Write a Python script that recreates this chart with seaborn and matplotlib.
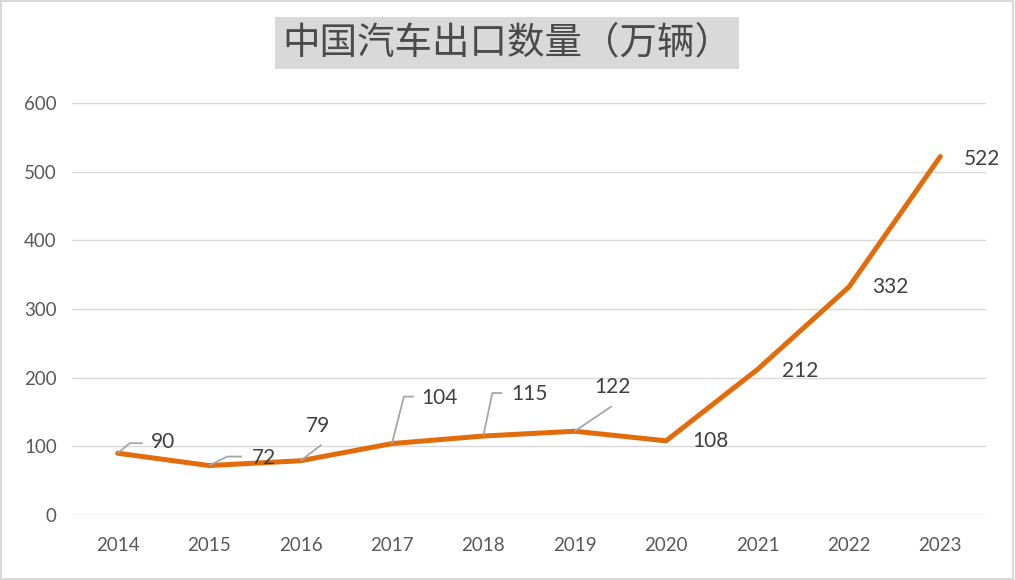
import matplotlib
matplotlib.use("Agg")
import matplotlib.pyplot as plt
import seaborn as sns
import pandas as pd
from matplotlib.patches import Rectangle

# 中国汽车出口数量（万辆）
years = ['2014', '2015', '2016', '2017', '2018', '2019', '2020', '2021', '2022', '2023']
exports = [90, 72, 79, 104, 115, 122, 108, 212, 332, 522]
y_ticks = [0, 100, 200, 300, 400, 500, 600]
title = "中国汽车出口数量（万辆）"

# label placement (offset pixels from point) and leader lines (elbow, end), None = no leader
label_offsets = [(45, 11), (55, 8), (17, 35), (48, 46), (46, 42), (38, 44), (44, 0), (43, -2), (41, 0), (42, -2)]
leaders = [((12, 10), (25, 10)), ((18, 9), (33, 9)), (None, (21, 16)), ((12, 47), (22, 47)),
           ((9, 43), (19, 43)), (None, (37, 25)), None, None, None, None]

sns.set_theme(style="white")
plt.rcParams['font.family'] = ['Lato', 'DejaVu Sans']

df = pd.DataFrame({'year': years, 'exports': exports})

fig = plt.figure(figsize=(10.15, 5.8), dpi=100)
ax = fig.add_axes([72 / 1015, 1 - 515 / 580, (986 - 72) / 1015, (515 - 103) / 580])

sns.lineplot(data=df, x='year', y='exports', ax=ax, color='#E36C0A', linewidth=3.6,
             solid_joinstyle='miter', zorder=3)

ax.set_xlim(-0.5, len(years) - 0.5)
ax.set_ylim(0, 600)
ax.set_yticks(y_ticks)
ax.yaxis.grid(True, color='#d9d9d9', linewidth=1)
ax.xaxis.grid(False)
for s in ax.spines.values():
    s.set_visible(False)
ax.set_xlabel('')
ax.set_ylabel('')
ax.tick_params(axis='y', length=0, pad=11, labelsize=13.5, labelcolor='#595959')
ax.tick_params(axis='x', length=0, pad=16, labelsize=13.5, labelcolor='#595959')

line_col = '#a6a6a6'
for i, (yr, v) in enumerate(zip(years, exports)):
    dx, dy = label_offsets[i]
    ax.annotate(str(v), xy=(i, v), xytext=(dx, dy), textcoords='offset pixels',
                ha='center', va='center', fontsize=15, color='#404040', zorder=5)
    ld = leaders[i]
    if ld is None:
        continue
    elbow, end = ld
    pts = [(0, 0)] + ([elbow] if elbow is not None else []) + [end]
    # draw leader as polyline in offset pixels
    trans = ax.transData.transform((i, v))
    xs = [(trans[0] + p[0]) for p in pts]
    ys = [(trans[1] + p[1]) for p in pts]
    inv = ax.transData.inverted()
    data_pts = inv.transform(list(zip(xs, ys)))
    ax.plot(data_pts[:, 0], data_pts[:, 1], color=line_col, linewidth=1.3, zorder=4,
            solid_capstyle='butt')

fig.text(507 / 1015, 1 - 43 / 580, title, ha='center', va='center', fontsize=27,
         color='#4a4a4a', family=['Noto Sans CJK SC', 'DejaVu Sans'], fontweight='light',
         bbox=dict(boxstyle='square,pad=0.18', facecolor='#d9d9d9', edgecolor='none'))

fig.patches.append(Rectangle((0.001, 0.001), 0.997, 0.997, transform=fig.transFigure,
                             fill=False, edgecolor='#d9d9d9', linewidth=1.5))

fig.savefig('out.png', dpi=100)
